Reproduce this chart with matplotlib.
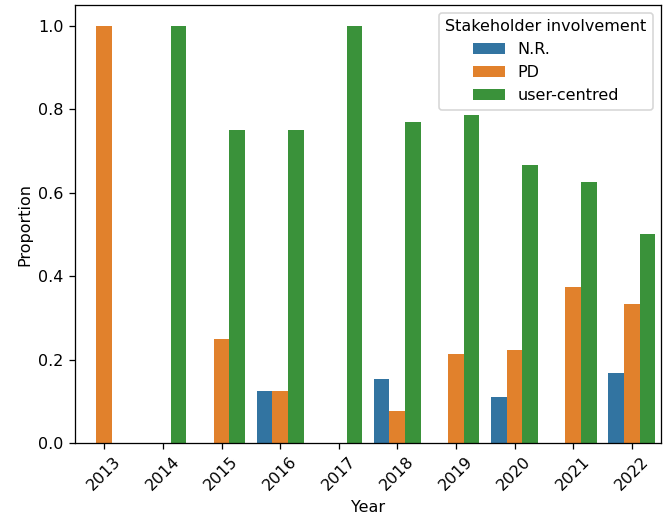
import matplotlib
matplotlib.use("Agg")
import matplotlib.pyplot as plt
import pandas as pd
import seaborn as sns

years = [2013, 2014, 2015, 2016, 2017, 2018, 2019, 2020, 2021, 2022]
groups = ["N.R.", "PD", "user-centred"]
nr_vals = [0.0, 0.0, 0.0, 0.125, 0.0, 0.154, 0.0, 0.111, 0.0, 0.167]
pd_vals = [1.0, 0.0, 0.25, 0.125, 0.0, 0.077, 0.214, 0.222, 0.375, 0.333]
uc_vals = [0.0, 1.0, 0.75, 0.75, 1.0, 0.769, 0.786, 0.667, 0.625, 0.5]

rows = []
for grp, vals in zip(groups, [nr_vals, pd_vals, uc_vals]):
    for yr, v in zip(years, vals):
        rows.append({"Year": yr, "Stakeholder involvement": grp, "Proportion": v})
df = pd.DataFrame(rows)

DPI = 115
fig = plt.figure(figsize=(665 / DPI, 520 / DPI), dpi=DPI)
# axes box in pixel terms: left 75, right 661, top 5, bottom 443
ax = fig.add_axes([75 / 665, 1 - 443 / 520, (661 - 75) / 665, (443 - 5) / 520])
sns.barplot(
    data=df,
    x="Year",
    y="Proportion",
    hue="Stakeholder involvement",
    hue_order=groups,
    palette="tab10",
    errorbar=None,
    ax=ax,
)
ax.tick_params(axis="x", rotation=45)
sns.move_legend(ax, "upper right", title="Stakeholder involvement")

fig.savefig("out.png", dpi=DPI)
